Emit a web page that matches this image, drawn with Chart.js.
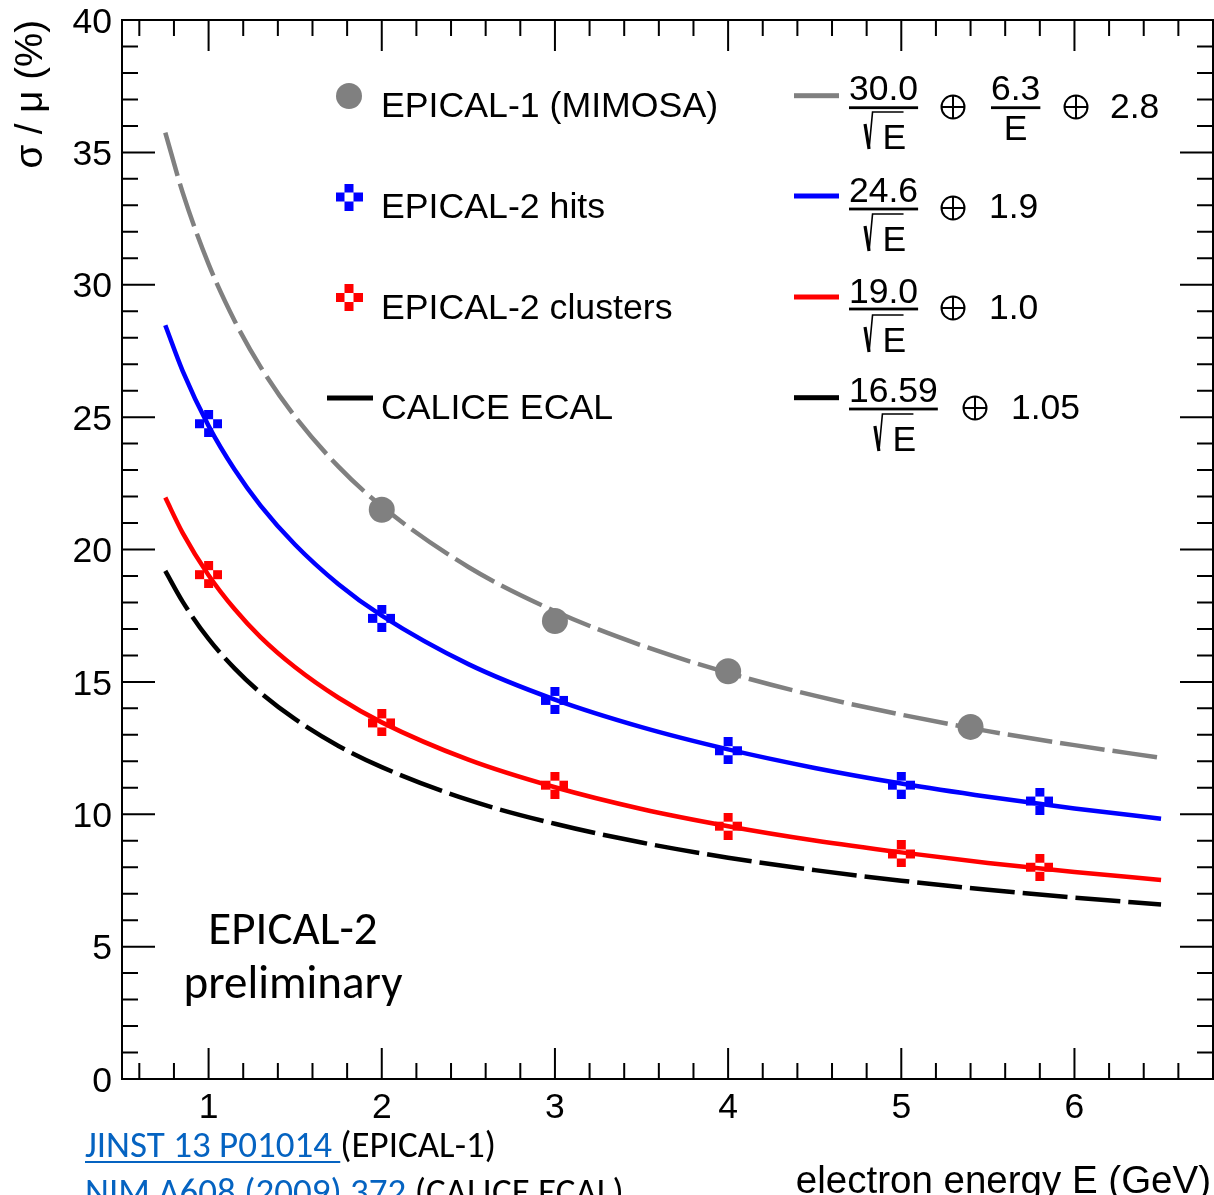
<!DOCTYPE html>
<html>
<head>
<meta charset="utf-8">
<script src="https://cdn.jsdelivr.net/npm/chart.js@4/dist/chart.umd.min.js"></script>
<style>
html,body{margin:0;padding:0;background:#fff;}
#wrap{width:1214px;height:1195px;position:relative;overflow:hidden;}
canvas{display:block;}
</style>
</head>
<body>
<div id="wrap"><canvas id="c" width="1214" height="1195"></canvas></div>
<script>
// ---- data ----
const xTickValues = [1, 2, 3, 4, 5, 6];
const yTickValues = [0, 5, 10, 15, 20, 25, 30, 35, 40];

// fit curves (sampled along the drawn curves)
const curveE      = [0.75, 0.85, 1, 1.15, 1.3, 1.5, 1.75, 2, 2.5, 3, 3.5, 4, 4.5, 5, 5.5, 6, 6.5];
const epical1Fit  = [35.75, 33.49, 30.78, 28.64, 26.90, 25.01, 23.13, 21.63, 19.34, 17.67, 16.38, 15.34, 14.48, 13.76, 13.14, 12.61, 12.13];
const hitsFit     = [28.47, 26.75, 24.67, 23.02, 21.66, 20.18, 18.69, 17.50, 15.67, 14.33, 13.29, 12.45, 11.75, 11.16, 10.66, 10.22, 9.83];
const clustersFit = [21.96, 20.63, 19.03, 17.75, 16.69, 15.55, 14.40, 13.47, 12.06, 11.02, 10.20, 9.55, 9.01, 8.56, 8.16, 7.82, 7.52];
const caliceFit   = [19.19, 18.03, 16.62, 15.51, 14.59, 13.59, 12.58, 11.78, 10.54, 9.64, 8.93, 8.36, 7.89, 7.49, 7.15, 6.85, 6.59];

// measured points
const epical1E   = [2, 3, 4, 5.4];
const epical1Res = [21.5, 17.3, 15.4, 13.3];
const hitsE      = [1, 2, 3, 4, 5, 5.8];
const hitsRes    = [24.75, 17.4, 14.3, 12.4, 11.1, 10.5];
const clustersE  = [1, 2, 3, 4, 5, 5.8];
const clustersRes= [19.05, 13.45, 11.1, 9.55, 8.5, 8.0];

// legend / annotation texts
const legendLabels = ['EPICAL-1 (MIMOSA)', 'EPICAL-2 hits', 'EPICAL-2 clusters', 'CALICE ECAL'];
const fitNumerators = ['30.0', '24.6', '19.0', '16.59'];

// ---- helpers ----
const toXY = (xs, ys) => xs.map((v, i) => ({x: v, y: ys[i]}));
const GRAY = '#808080', BLUE = '#0000ff', RED = '#ff0000', BLACK = '#000000';
const SANS = '"Liberation Sans", Arial, Helvetica, sans-serif';
const CAL = 'Carlito, Lato, sans-serif';

function crossImg(color) {
  const c = document.createElement('canvas');
  c.width = 27; c.height = 27;
  const g = c.getContext('2d');
  g.fillStyle = color;
  g.fillRect(9, 0, 9, 9);
  g.fillRect(9, 18, 9, 9);
  g.fillRect(0, 9, 9, 9);
  g.fillRect(18, 9, 9, 9);
  return c;
}
const blueCross = crossImg(BLUE);
const redCross = crossImg(RED);

function fitDS(data, color, dash) {
  return {
    data: toXY(curveE, data), showLine: true, borderColor: color, borderWidth: 4.5,
    borderDash: dash, pointRadius: 0, cubicInterpolationMode: 'monotone', fill: false, order: 2
  };
}

const framePlugin = {
  id: 'frame',
  afterDraw(chart) {
    const {ctx, chartArea: a, scales: {x, y}} = chart;
    ctx.save();
    ctx.strokeStyle = '#000';
    ctx.lineWidth = 2;
    ctx.strokeRect(a.left, a.top, a.right - a.left, a.bottom - a.top);
    ctx.beginPath();
    for (let k = 3; k <= 33; k++) {
      const px = x.getPixelForValue(k / 5);
      const len = (k % 5 === 0) ? 31 : 16;
      ctx.moveTo(px, a.bottom); ctx.lineTo(px, a.bottom - len);
      ctx.moveTo(px, a.top); ctx.lineTo(px, a.top + len);
    }
    for (let k = 1; k <= 39; k++) {
      const py = y.getPixelForValue(k);
      const len = (k % 5 === 0) ? 33 : 16;
      ctx.moveTo(a.left, py); ctx.lineTo(a.left + len, py);
      ctx.moveTo(a.right, py); ctx.lineTo(a.right - len, py);
    }
    ctx.stroke();

    // tick labels
    ctx.fillStyle = '#000';
    ctx.font = '35.5px ' + SANS;
    ctx.textBaseline = 'alphabetic';
    ctx.textAlign = 'center';
    xTickValues.forEach(v => ctx.fillText(String(v), x.getPixelForValue(v), a.bottom + 39));
    ctx.textAlign = 'right';
    yTickValues.forEach(v => ctx.fillText(String(v), a.left - 10, y.getPixelForValue(v) + 12.7));

    // axis titles
    ctx.font = '38.5px ' + SANS;
    ctx.textAlign = 'right';
    ctx.fillText('electron energy E (GeV)', 1211, 1193);
    ctx.save();
    ctx.translate(42, 20);
    ctx.rotate(-Math.PI / 2);
    ctx.fillText('σ / μ (%)', 0, 0);
    ctx.restore();

    // legend left column
    ctx.textAlign = 'left';
    ctx.font = '35.7px ' + SANS;
    ctx.fillStyle = GRAY;
    ctx.beginPath(); ctx.arc(349, 96, 13, 0, Math.PI * 2); ctx.fill();
    ctx.drawImage(blueCross, 349 - 13.5, 197 - 13.5);
    ctx.drawImage(redCross, 349 - 13.5, 297.5 - 13.5);
    ctx.fillStyle = '#000';
    ctx.fillRect(327, 395.5, 46, 5);
    const lb = [117, 218, 319, 419];
    legendLabels.forEach((t, i) => ctx.fillText(t, 381, lb[i]));

    // legend right column (fit formulae)
    const lineY = [95.7, 196, 297, 397.7];
    const lineC = [GRAY, BLUE, RED, BLACK];
    lineY.forEach((yy, i) => { ctx.fillStyle = lineC[i]; ctx.fillRect(794, yy - 2.5, 45, 5); });
    ctx.fillStyle = '#000'; ctx.strokeStyle = '#000';
    ctx.font = '35.5px ' + SANS;

    function oplus(cx, cy) {
      ctx.lineWidth = 2;
      ctx.beginPath();
      ctx.arc(cx, cy, 11.5, 0, Math.PI * 2);
      ctx.moveTo(cx - 11.5, cy); ctx.lineTo(cx + 11.5, cy);
      ctx.moveTo(cx, cy - 11.5); ctx.lineTo(cx, cy + 11.5);
      ctx.stroke();
    }
    function sqrtE(c, yd) {
      ctx.lineWidth = 3.2;
      ctx.beginPath(); ctx.moveTo(c - 18.5, yd - 25); ctx.lineTo(c - 14.5, yd); ctx.stroke();
      ctx.lineWidth = 1.6;
      ctx.beginPath(); ctx.moveTo(c - 14.5, yd); ctx.lineTo(c - 11, yd - 37); ctx.lineTo(c + 20, yd - 37); ctx.stroke();
      ctx.textAlign = 'left';
      ctx.fillText('E', c - 1, yd);
    }
    function frac(num, left, yn, yb, yd, sq) {
      ctx.textAlign = 'left';
      ctx.fillText(num, left, yn);
      const w = ctx.measureText(num).width;
      ctx.fillRect(left, yb - 1.4, w, 2.8);
      const c = left + w / 2;
      if (sq) sqrtE(c, yd);
      else { ctx.textAlign = 'center'; ctx.fillText('E', c, yd); ctx.textAlign = 'left'; }
    }
    frac(fitNumerators[0], 849, 100, 107.7, 149, true);
    oplus(953, 107);
    frac('6.3', 991, 100, 107.7, 140, false);
    oplus(1076, 107);
    ctx.fillText('2.8', 1110, 118);

    frac(fitNumerators[1], 849, 202, 209, 251, true);
    oplus(953, 208);
    ctx.fillText('1.9', 989, 218);

    frac(fitNumerators[2], 849, 303, 309, 352, true);
    oplus(953, 308);
    ctx.fillText('1.0', 989, 319);

    frac(fitNumerators[3], 849, 402, 409, 451, true);
    oplus(975, 408);
    ctx.fillText('1.05', 1011, 419);

    // preliminary tag
    ctx.font = '47px ' + CAL;
    ctx.textAlign = 'center';
    ctx.fillText('EPICAL-2', 293, 944);
    ctx.fillText('preliminary', 293, 998);

    // references
    ctx.font = '37px ' + CAL;
    ctx.textAlign = 'left';
    function ref(link, rest, x0, yb) {
      ctx.fillStyle = '#0563C1';
      ctx.fillText(link, x0, yb);
      const w = ctx.measureText(link).width;
      ctx.fillRect(x0, yb + 4, w, 2);
      ctx.fillStyle = '#000';
      ctx.fillText(rest, x0 + w, yb);
    }
    ref('JINST 13 P01014 ', '(EPICAL-1)', 85, 1157);
    ref('NIM A608 (2009) 372 ', '(CALICE ECAL)', 85, 1204);
    ctx.restore();
  }
};

new Chart(document.getElementById('c'), {
  type: 'scatter',
  data: {
    datasets: [
      {data: toXY(epical1E, epical1Res), pointStyle: 'circle', pointRadius: 13, pointBackgroundColor: GRAY, pointBorderWidth: 0, showLine: false, order: 1},
      {data: toXY(hitsE, hitsRes), pointStyle: blueCross, showLine: false, order: 1},
      {data: toXY(clustersE, clustersRes), pointStyle: redCross, showLine: false, order: 1},
      fitDS(epical1Fit, GRAY, [45, 8]),
      fitDS(hitsFit, BLUE, []),
      fitDS(clustersFit, RED, []),
      fitDS(caliceFit, BLACK, [45, 8])
    ]
  },
  options: {
    responsive: false,
    animation: false,
    devicePixelRatio: 1,
    layout: {autoPadding: false, padding: {top: 20, right: 1, left: 122, bottom: 116}},
    plugins: {legend: {display: false}, tooltip: {enabled: false}},
    scales: {
      x: {type: 'linear', min: 0.5, max: 6.8, display: false},
      y: {type: 'linear', min: 0, max: 40, display: false}
    }
  },
  plugins: [framePlugin]
});
</script>
</body>
</html>
